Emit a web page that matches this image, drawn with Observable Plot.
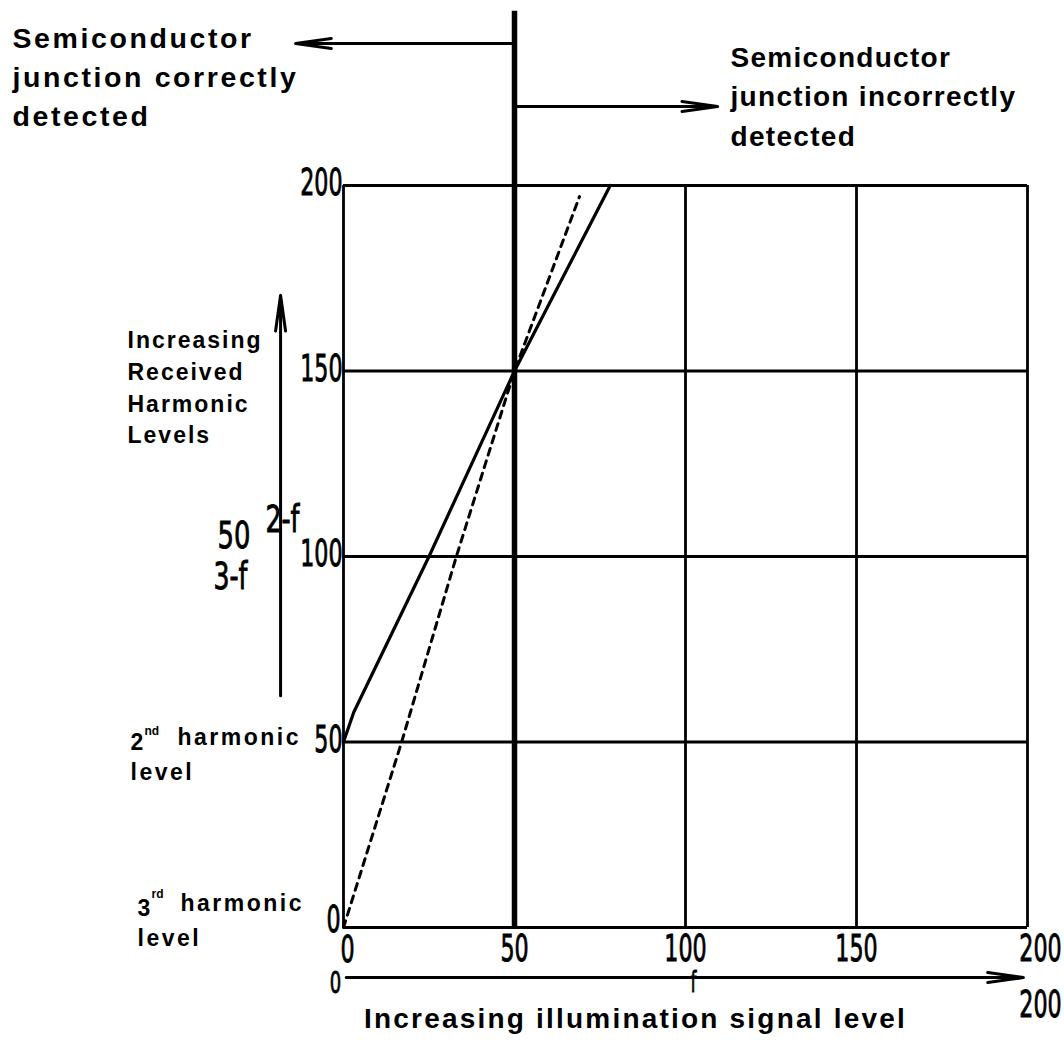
<!DOCTYPE html>
<html><head><meta charset="utf-8">
<script src="https://cdn.jsdelivr.net/npm/d3@7"></script>
<script src="https://cdn.jsdelivr.net/npm/@observablehq/plot@0.6"></script>
<style>body{margin:0;background:#fff} #chart svg{display:block}</style>
</head><body><div id="chart"></div>
<script>
// ---- data ----
const xTicks = [0, 50, 100, 150, 200];
const yTicks = [0, 50, 100, 150, 200];
const boundaryLevel = 50;
const illum2nd = [0, 3, 25, 50, 78];
const level2nd = [50, 58, 100, 150, 200];
const illum3rd = [0, 17, 33, 50, 69];
const level3rd = [0, 50, 100, 150, 197];

const second = illum2nd.map((x, i) => ({x, y: level2nd[i]}));
const third = illum3rd.map((x, i) => ({x, y: level3rd[i]}));

const DIGIT = "'DejaVu Sans',sans-serif";
const SANS = "'Liberation Sans',Arial,Helvetica,sans-serif";
const NARROW_HOOK = "#000006";
const WIDE_HOOK = "#000007";
const spacing = {"#000001": 2.6, "#000002": 1.3, "#000003": 2, "#000004": 2.5, "#000005": 2.2};

function label(t, o) {
  return Plot.text([t], {text: d => d, frameAnchor: "top-left", lineAnchor: "top", textAnchor: "start", ...o});
}
function digits(t, o) {
  return label(t, {fontFamily: DIGIT, fill: NARROW_HOOK, ...o});
}
const tickStyle = {tickSize: 0, fontSize: 37, fontFamily: DIGIT, label: null};

const chart = Plot.plot({
  width: 1064, height: 1047,
  marginLeft: 343, marginRight: 37, marginTop: 185, marginBottom: 120,
  x: {domain: [0, 200]}, y: {domain: [0, 200]},
  style: {background: "#fff", color: "#000", overflow: "visible"},
  marks: [
    Plot.ruleX(xTicks, {stroke: "#000", strokeWidth: 2.8}),
    Plot.ruleY(yTicks, {stroke: "#000", strokeWidth: 2.8}),
    Plot.ruleX([boundaryLevel], {y1: 0, y2: 247, stroke: "#000", strokeWidth: 5.5}),
    Plot.line(second, {x: "x", y: "y", stroke: "#000", strokeWidth: 3.2}),
    Plot.line(third, {x: "x", y: "y", stroke: "#000", strokeWidth: 3, strokeDasharray: "7,6"}),
    Plot.axisY(yTicks.slice(1), {...tickStyle, tickPadding: 1, dy: -2}),
    Plot.axisY(yTicks.slice(0, 1), {...tickStyle, tickPadding: 3, dy: -7}),
    Plot.axisX(xTicks.slice(0, 1), {...tickStyle, tickPadding: 8, dx: 4}),
    Plot.axisX(xTicks.slice(1, 4), {...tickStyle, tickPadding: 7}),
    Plot.axisX(xTicks.slice(4), {...tickStyle, tickPadding: 7, dx: 13}),
    // arrows
    Plot.arrow([{x1: 50, y1: 238.3, x2: -14, y2: 238.3}], {x1: "x1", y1: "y1", x2: "x2", y2: "y2", stroke: "#000", strokeWidth: 3, headLength: 18, headAngle: 16}),
    Plot.arrow([{x1: 50, y1: 221.3, x2: 109.4, y2: 221.3}], {x1: "x1", y1: "y1", x2: "x2", y2: "y2", stroke: "#000", strokeWidth: 3, headLength: 18, headAngle: 16}),
    Plot.arrow([{x1: -18.4, y1: 62.5, x2: -18.4, y2: 170.4}], {x1: "x1", y1: "y1", x2: "x2", y2: "y2", stroke: "#000", strokeWidth: 3, headLength: 18, headAngle: 16}),
    Plot.arrow([{x1: 0.8, y1: -13.5, x2: 198.8, y2: -13.5}], {x1: "x1", y1: "y1", x2: "x2", y2: "y2", stroke: "#000", strokeWidth: 3, headLength: 18, headAngle: 16}),
    // text annotations
    label("Semiconductor\njunction correctly\ndetected", {dx: -331, dy: -165, fontSize: 28.5, lineHeight: 1.36, fontWeight: "bold", fontFamily: SANS, fill: "#000001"}),
    label("Semiconductor\njunction incorrectly\ndetected", {dx: 387, dy: -147, fontSize: 28, lineHeight: 1.42, fontWeight: "bold", fontFamily: SANS, fill: "#000002"}),
    label("Increasing\nReceived\nHarmonic\nLevels", {dx: -216, dy: 140, fontSize: 23, lineHeight: 1.38, fontWeight: "bold", fontFamily: SANS, fill: "#000003"}),
    label("2\nlevel", {dx: -213, dy: 543, fontSize: 23, lineHeight: 1.3, fontWeight: "bold", fontFamily: SANS, fill: "#000004"}),
    label("nd", {dx: -199, dy: 541, fontSize: 12, fontWeight: "bold", fontFamily: SANS}),
    label("harmonic", {dx: -166, dy: 543, fontSize: 23, fontWeight: "bold", fontFamily: SANS, fill: "#000004"}),
    label("3\nlevel", {dx: -206, dy: 709, fontSize: 23, lineHeight: 1.3, fontWeight: "bold", fontFamily: SANS, fill: "#000004"}),
    label("rd", {dx: -192, dy: 704, fontSize: 12, fontWeight: "bold", fontFamily: SANS}),
    label("harmonic", {dx: -163, dy: 709, fontSize: 23, fontWeight: "bold", fontFamily: SANS, fill: "#000004"}),
    digits("50", {dx: -93, dy: 336, textAnchor: "end", fontSize: 38, fill: WIDE_HOOK}),
    digits("2-f", {dx: -78, dy: 320, fontSize: 37, fill: WIDE_HOOK}),
    digits("3-f", {dx: -130, dy: 377, fontSize: 37, fill: WIDE_HOOK}),
    digits("0", {dx: -8, dy: 798, textAnchor: "middle", lineAnchor: "middle", fontSize: 30}),
    digits("f", {dx: 350, dy: 787, textAnchor: "middle", fontSize: 28}),
    digits("200", {dx: 697, dy: 805, textAnchor: "middle", fontSize: 37}),
    label("Increasing illumination signal level", {dx: 292, dy: 823, textAnchor: "middle", fontSize: 28, fontWeight: "bold", fontFamily: SANS, fill: "#000005"})
  ]
});

function squeeze(t, s) {
  const tr = t.getAttribute("transform");
  if (tr) t.setAttribute("transform", tr + ` scale(${s},1)`);
  else {
    const x = +t.getAttribute("x") || 0, y = +t.getAttribute("y") || 0;
    t.setAttribute("transform", `translate(${x},${y}) scale(${s},1) translate(${-x},${-y})`);
  }
  t.setAttribute("stroke", "#000");
  t.setAttribute("stroke-width", "0.9");
}
for (const [code, ls] of Object.entries(spacing)) {
  chart.querySelectorAll(`g[fill="${code}"]`).forEach(g => { g.setAttribute("letter-spacing", ls + "px"); g.setAttribute("fill", "#000"); });
}
chart.querySelectorAll(`g[fill="${NARROW_HOOK}"] text`).forEach(t => squeeze(t, 0.6));
chart.querySelectorAll(`g[fill="${WIDE_HOOK}"] text`).forEach(t => squeeze(t, 0.68));
chart.querySelectorAll(`g[fill="${NARROW_HOOK}"], g[fill="${WIDE_HOOK}"]`).forEach(g => g.setAttribute("fill", "#000"));
chart.querySelectorAll('g[aria-label$="tick label"] text').forEach(t => squeeze(t, 0.6));
document.getElementById("chart").appendChild(chart);
</script>
</body></html>
